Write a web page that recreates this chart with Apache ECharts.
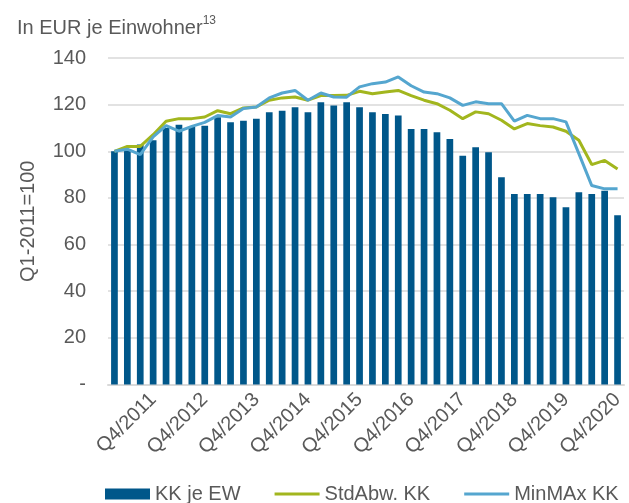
<!DOCTYPE html>
<html>
<head>
<meta charset="utf-8">
<script src="https://cdn.jsdelivr.net/npm/echarts@6/dist/echarts.min.js"></script>
<style>
html,body{margin:0;padding:0;background:#fff;}
#c{width:629px;height:503px;}
</style>
</head>
<body>
<div id="c"></div>
<script>
var categories = ['Q1/2011','Q2/2011','Q3/2011','Q4/2011','Q1/2012','Q2/2012','Q3/2012','Q4/2012',
'Q1/2013','Q2/2013','Q3/2013','Q4/2013','Q1/2014','Q2/2014','Q3/2014','Q4/2014',
'Q1/2015','Q2/2015','Q3/2015','Q4/2015','Q1/2016','Q2/2016','Q3/2016','Q4/2016',
'Q1/2017','Q2/2017','Q3/2017','Q4/2017','Q1/2018','Q2/2018','Q3/2018','Q4/2018',
'Q1/2019','Q2/2019','Q3/2019','Q4/2019','Q1/2020','Q2/2020','Q3/2020','Q4/2020'];
var kkJeEW = [100,100.8,102.9,104.7,110,111.4,110.4,111,114.6,112.4,113.1,113.9,116.7,117.4,118.9,116.7,
121,119.6,121,118.9,116.7,116,115.3,109.6,109.6,108.2,105.3,98.1,101.7,99.6,88.9,81.7,
81.7,81.7,80.3,76,82.4,81.7,83.1,72.6];
var stdAbwKK = [100,102.1,102.1,107.1,112.9,114,114,114.7,117.4,116.1,118.6,119,121.9,122.9,123.3,121.9,
123.9,123.9,124,125.7,124.7,125.4,126.1,123.9,121.9,120.4,117.6,114,116.9,116.1,113.3,109.6,
111.9,111,110.4,108.6,104.7,94.3,96.1,92.4];
var minMaxKK = [100,100.9,98.6,106.2,111,108.6,110.7,112.4,115.3,114.7,118.3,119,122.9,125,126.1,121.9,
125,123.3,123.2,127.6,129,129.7,131.9,128.1,125.4,124.7,122.9,119.7,121.2,120.4,120.4,112.9,
115.4,114,114,112.6,99,85.3,83.9,83.9];
var yTicks = {min:0, max:140, step:20};

var txt = '#595959';
var ff = '"Liberation Sans", Arial, sans-serif';
var lineIcon = 'path://M0,0h45v3h-45z';
var chart = echarts.init(document.getElementById('c'));
chart.setOption({
  animation:false,
  backgroundColor:'#fff',
  textStyle:{fontFamily:ff},
  title:{
    left:12, top:9,
    text:'{a|In EUR je Einwohner}{s|13}',
    textStyle:{
      fontWeight:'normal',
      rich:{
        a:{fontSize:20, color:txt, fontFamily:ff, fontWeight:'normal', lineHeight:24, verticalAlign:'bottom'},
        s:{fontSize:12, color:txt, fontFamily:ff, fontWeight:'normal', lineHeight:24, verticalAlign:'top', padding:[1,0,0,0]}
      }
    }
  },
  legend:{
    left:100, top:479, width:529,
    itemWidth:45, itemHeight:11, itemGap:34,
    textStyle:{fontSize:20, color:txt, fontFamily:ff},
    data:[{name:'KK je EW', icon:'rect'},
          {name:'StdAbw. KK', icon:lineIcon},
          {name:'MinMAx KK', icon:lineIcon}]
  },
  grid:{left:108, right:5, top:58, bottom:118.5},
  xAxis:{
    type:'category',
    data:categories,
    axisTick:{show:false},
    axisLine:{lineStyle:{color:'#D9D9D9', width:2}},
    axisLabel:{
      rotate:45, margin:12, fontSize:20, color:txt, fontFamily:ff,
      interval:function(i){return i % 4 === 3;}
    }
  },
  yAxis:{
    type:'value', min:yTicks.min, max:yTicks.max, interval:yTicks.step,
    name:'Q1-2011=100', nameLocation:'middle', nameGap:70, nameRotate:90,
    nameTextStyle:{fontSize:20, color:txt, fontFamily:ff},
    axisLine:{show:false}, axisTick:{show:false},
    splitLine:{lineStyle:{color:'#D9D9D9', width:1.5}},
    axisLabel:{margin:22, fontSize:20, color:txt, fontFamily:ff,
      formatter:function(v){return v===0?'-':String(v);}}
  },
  series:[
    {name:'KK je EW', type:'bar', data:kkJeEW, barCategoryGap:'48%',
      itemStyle:{color:'#00578A'}},
    {name:'StdAbw. KK', type:'line', data:stdAbwKK, symbol:'none',
      lineStyle:{color:'#A2B61E', width:3}, itemStyle:{color:'#A2B61E'}},
    {name:'MinMAx KK', type:'line', data:minMaxKK, symbol:'none',
      lineStyle:{color:'#55A6CF', width:3}, itemStyle:{color:'#55A6CF'}}
  ]
});
</script>
</body>
</html>
